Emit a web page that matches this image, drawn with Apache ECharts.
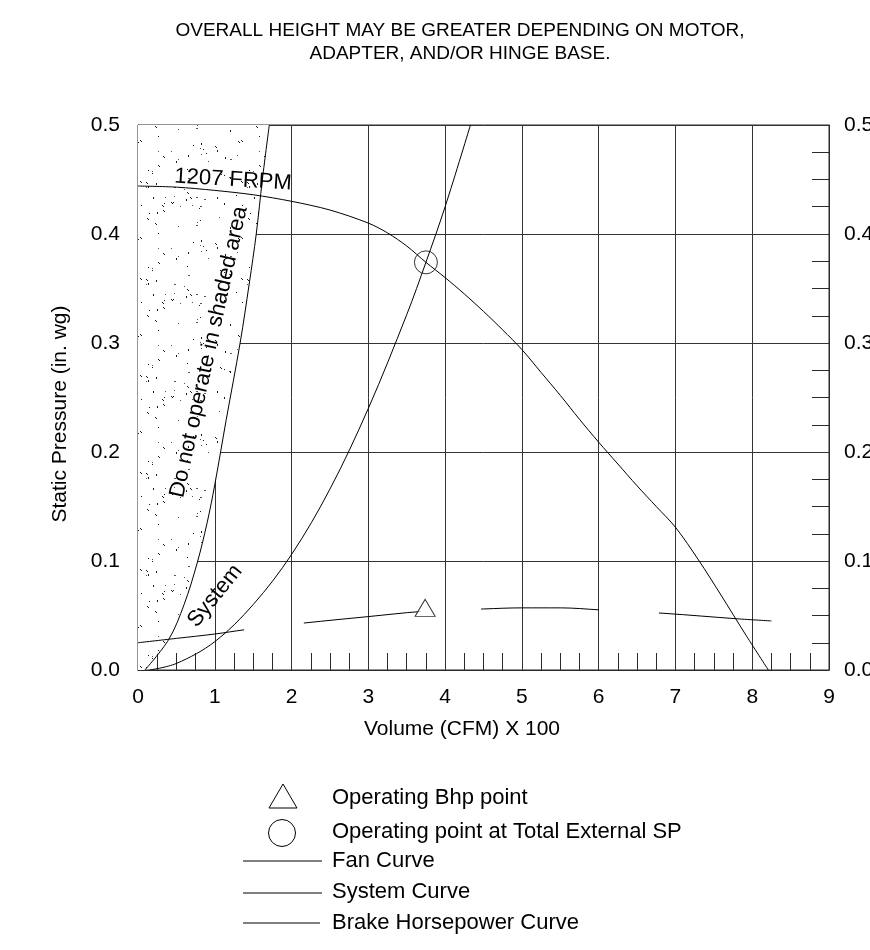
<!DOCTYPE html>
<html><head><meta charset="utf-8">
<script src="https://cdn.jsdelivr.net/npm/echarts@6/dist/echarts.min.js"></script>
<style>html,body{margin:0;padding:0;background:#fff}#c{width:870px;height:950px}</style>
</head><body><div id="c"></div>
<script>
const FONT = '"Liberation Sans", Arial, Helvetica, sans-serif';

// ---- data ----
const xTickLabels = ['0','1','2','3','4','5','6','7','8','9'];
const yTickLabels = ['0.0','0.1','0.2','0.3','0.4','0.5'];

const fanX = [0, 0.5, 1, 1.5, 2, 2.5, 3, 3.25, 3.5, 3.75, 4, 4.25, 4.5, 4.75, 5, 5.25, 5.5, 5.75, 6, 6.25, 6.5, 6.75, 7, 7.3, 7.6, 7.9, 8.21];
const fanY = [0.444, 0.443, 0.440, 0.436, 0.430, 0.422, 0.410, 0.401, 0.389, 0.374, 0.360, 0.345, 0.329, 0.312, 0.294, 0.273, 0.252, 0.230, 0.209, 0.189, 0.169, 0.150, 0.131, 0.101, 0.068, 0.034, 0.0];

const sysX = [0.15, 0.5, 1, 1.5, 2, 2.5, 3, 3.5, 3.75, 4, 4.33];
const sysY = [0, 0.006, 0.026, 0.06, 0.106, 0.166, 0.24, 0.326, 0.374, 0.425, 0.5];

const limitX = [0.09, 0.4, 0.6, 0.77, 0.9, 1.0, 1.15, 1.33, 1.45, 1.54, 1.62, 1.71];
const limitY = [0, 0.028, 0.06, 0.098, 0.135, 0.17, 0.23, 0.3, 0.355, 0.4, 0.45, 0.5];

const bhpX = [0, 0.5, 1, 1.4, 2.15, 3, 3.75, 4.5, 5, 5.5, 6.05, 6.85, 7.8, 8.25];
const bhpY = [0.025, 0.029, 0.033, 0.037, 0.043, 0.049, 0.054, 0.056, 0.057, 0.057, 0.055, 0.052, 0.047, 0.045];

const operatingPoint = [3.75, 0.374];
const bhpPoint = [3.74, 0.057];

const titleLines = ['OVERALL HEIGHT MAY BE GREATER DEPENDING ON MOTOR,', 'ADAPTER, AND/OR HINGE BASE.'];
const xAxisTitle = 'Volume (CFM) X 100';
const yAxisTitle = 'Static Pressure (in. wg)';
const curveLabels = ['1207 FRPM', 'Do not operate in shaded area', 'System'];
const legendLabels = ['Operating Bhp point', 'Operating point at Total External SP', 'Fan Curve', 'System Curve', 'Brake Horsepower Curve'];

// ---- helpers ----
const pairs = (xs, ys) => xs.map((x, i) => [x, ys[i]]);

function makeStipple() {
  const W = 101, H = 97;
  const c = document.createElement('canvas');
  c.width = W; c.height = H;
  const g = c.getContext('2d');
  g.fillStyle = '#ffffff'; g.fillRect(0, 0, W, H);
  for (let i = 1; i <= 150; i++) {
    let h = Math.imul(i, 2654435761) >>> 0;
    h ^= h >>> 13; h = Math.imul(h, 1274126177) >>> 0; h ^= h >>> 16;
    const px = h % W;
    const py = (h >>> 7) % H;
    const k = (h >>> 3) % 7;
    g.fillStyle = (k % 3 === 0) ? '#555555' : '#1a1a1a';
    if (k === 0) g.fillRect(px, py, 2, 1);
    else if (k === 1) g.fillRect(px, py, 1, 2);
    else if (k === 2) { g.fillRect(px, py, 1, 1); g.fillRect(px + 1, py + 1, 1, 1); }
    else g.fillRect(px, py, 1, 1);
  }
  return c;
}
const stipple = makeStipple();

const lineCommon = {
  type: 'line', showSymbol: false, symbol: 'none', silent: true,
  smooth: 0.35, z: 5
};

const axisColor = '#2a2a2a';
const gridColor = '#333333';
const tickFont = 21;

const chart = echarts.init(document.getElementById('c'), null, { renderer: 'canvas' });
chart.setOption({
  animation: false,
  backgroundColor: '#ffffff',
  textStyle: { fontFamily: FONT },
  grid: { left: 138, top: 125, width: 691, height: 545, show: true, borderColor: axisColor, borderWidth: 1,
    backgroundColor: 'transparent', containLabel: false, outerBoundsMode: 'none' },
  xAxis: {
    type: 'value', min: 0, max: 9, interval: 1,
    axisLine: { show: true, onZero: false, lineStyle: { color: axisColor, width: 1 } },
    axisTick: { show: false, inside: true },
    minorTick: { show: true, splitNumber: 4, length: 17, lineStyle: { color: axisColor, width: 1 } },
    splitLine: { show: true, lineStyle: { color: gridColor, width: 1 } },
    axisLabel: { color: '#000', fontSize: tickFont, fontFamily: FONT, margin: 17,
      formatter: v => xTickLabels[Math.round(v)] }
  },
  yAxis: [{
    type: 'value', min: 0, max: 0.5, interval: 0.1, position: 'left',
    axisLine: { show: true, onZero: false, lineStyle: { color: axisColor, width: 1 } },
    axisTick: { show: false, inside: true },
    minorTick: { show: true, splitNumber: 4, length: 17, lineStyle: { color: axisColor, width: 1 } },
    splitLine: { show: true, lineStyle: { color: gridColor, width: 1 } },
    axisLabel: { color: '#000', fontSize: tickFont, fontFamily: FONT, margin: 18,
      formatter: v => yTickLabels[Math.round(v * 10)] }
  }, {
    type: 'value', min: 0, max: 0.5, interval: 0.1, position: 'right',
    axisLine: { show: true, onZero: false, lineStyle: { color: axisColor, width: 1 } },
    axisTick: { show: false, inside: true },
    minorTick: { show: true, splitNumber: 4, length: 17, lineStyle: { color: axisColor, width: 1 } },
    splitLine: { show: false },
    axisLabel: { color: '#000', fontSize: tickFont, fontFamily: FONT, margin: 15,
      formatter: v => yTickLabels[Math.round(v * 10)] }
  }],
  series: [
    {
      type: 'custom', silent: true, z: 1, clip: true,
      data: pairs(limitX, limitY),
      renderItem: (params, api) => {
        if (params.dataIndex !== 0) return null;
        const pts = [api.coord([0, 0])];
        limitX.forEach((x, i) => pts.push(api.coord([x, limitY[i]])));
        pts.push(api.coord([0, 0.5]));
        return { type: 'polygon', shape: { points: pts, smooth: 0 },
          style: { fill: { image: stipple, repeat: 'repeat' }, stroke: null } };
      }
    },
    Object.assign({}, lineCommon, { name: 'limit', data: pairs(limitX, limitY), lineStyle: { color: '#000', width: 1 } }),
    Object.assign({}, lineCommon, { name: 'Fan Curve', data: pairs(fanX, fanY), smooth: 0.3, lineStyle: { color: '#000', width: 1 } }),
    Object.assign({}, lineCommon, { name: 'System Curve', data: pairs(sysX, sysY), lineStyle: { color: '#000', width: 1 } }),
    Object.assign({}, lineCommon, { name: 'Brake Horsepower Curve', data: pairs(bhpX, bhpY),
      lineStyle: { color: '#000', width: 1, type: [118, 60], dashOffset: 11 } }),
    {
      type: 'scatter', name: 'Operating point at Total External SP', silent: true, z: 6,
      data: [operatingPoint], symbol: 'circle', symbolSize: 23,
      itemStyle: { color: 'rgba(0,0,0,0)', borderColor: '#000', borderWidth: 1 }
    },
    {
      type: 'scatter', name: 'Operating Bhp point', silent: true, z: 6,
      data: [bhpPoint], symbol: 'triangle', symbolSize: [20, 17],
      itemStyle: { color: '#fff', borderColor: '#000', borderWidth: 1 }
    }
  ],
  graphic: [
    { type: 'text', x: 460, y: 31, style: { text: titleLines[0], font: '19px ' + FONT, fill: '#000', textAlign: 'center', textVerticalAlign: 'middle' } },
    { type: 'text', x: 460, y: 54, style: { text: titleLines[1], font: '19px ' + FONT, fill: '#000', textAlign: 'center', textVerticalAlign: 'middle' } },
    { type: 'text', x: 462, y: 729, style: { text: xAxisTitle, font: '21px ' + FONT, fill: '#000', textAlign: 'center', textVerticalAlign: 'middle' } },
    { type: 'text', x: 60, y: 414, rotation: Math.PI / 2, style: { text: yAxisTitle, font: '21px ' + FONT, fill: '#000', textAlign: 'center', textVerticalAlign: 'middle' } },
    { type: 'text', x: 233, y: 180, rotation: -0.06, z: 10, style: { text: curveLabels[0], font: '22px ' + FONT, fill: '#000', textAlign: 'center', textVerticalAlign: 'middle' } },
    { type: 'text', x: 209, y: 352, rotation: 1.354, z: 10, style: { text: curveLabels[1], font: '22px ' + FONT, fill: '#000', textAlign: 'center', textVerticalAlign: 'middle' } },
    { type: 'text', x: 215, y: 596, rotation: 0.89, z: 10, style: { text: curveLabels[2], font: '22px ' + FONT, fill: '#000', textAlign: 'center', textVerticalAlign: 'middle' } },
    // legend
    { type: 'polygon', shape: { points: [[283, 784], [269, 808], [297, 808]] }, style: { fill: 'none', stroke: '#000', lineWidth: 1 } },
    { type: 'circle', shape: { cx: 282, cy: 833, r: 13.5 }, style: { fill: 'none', stroke: '#000', lineWidth: 1 } },
    { type: 'line', shape: { x1: 243, y1: 861, x2: 322, y2: 861 }, style: { stroke: '#000', lineWidth: 1 } },
    { type: 'line', shape: { x1: 243, y1: 893, x2: 322, y2: 893 }, style: { stroke: '#000', lineWidth: 1 } },
    { type: 'line', shape: { x1: 243, y1: 923, x2: 320, y2: 923 }, style: { stroke: '#000', lineWidth: 1 } },
    { type: 'text', x: 332, y: 798, style: { text: legendLabels[0], font: '22px ' + FONT, fill: '#000', textAlign: 'left', textVerticalAlign: 'middle' } },
    { type: 'text', x: 332, y: 832, style: { text: legendLabels[1], font: '22px ' + FONT, fill: '#000', textAlign: 'left', textVerticalAlign: 'middle' } },
    { type: 'text', x: 332, y: 861, style: { text: legendLabels[2], font: '22px ' + FONT, fill: '#000', textAlign: 'left', textVerticalAlign: 'middle' } },
    { type: 'text', x: 332, y: 892, style: { text: legendLabels[3], font: '22px ' + FONT, fill: '#000', textAlign: 'left', textVerticalAlign: 'middle' } },
    { type: 'text', x: 332, y: 923, style: { text: legendLabels[4], font: '22px ' + FONT, fill: '#000', textAlign: 'left', textVerticalAlign: 'middle' } }
  ]
});
</script>
</body></html>
